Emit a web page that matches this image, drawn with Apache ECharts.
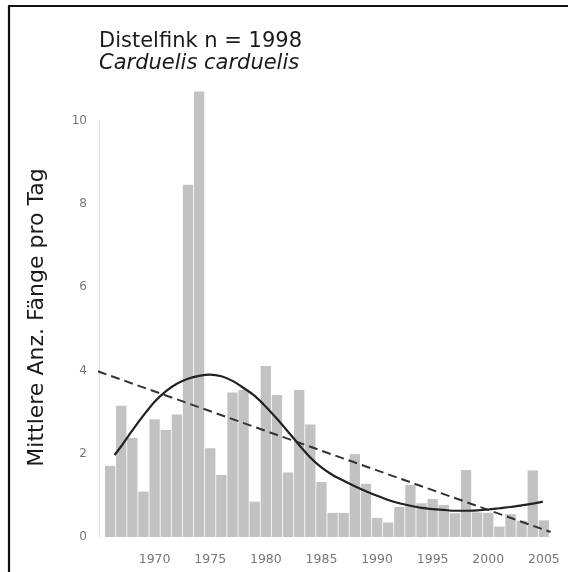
<!DOCTYPE html>
<html>
<head>
<meta charset="utf-8">
<script src="https://cdn.jsdelivr.net/npm/echarts@6/dist/echarts.min.js"></script>
<style>
html,body{margin:0;padding:0;background:#fff;}
#c{width:568px;height:572px;}
</style>
</head>
<body>
<div id="c"></div>
<script>
const titleText = "Distelfink n = 1998";
const subtitleText = "Carduelis carduelis";
const yAxisTitle = "Mittlere Anz. Fänge pro Tag";

const years = [1966,1967,1968,1969,1970,1971,1972,1973,1974,1975,
               1976,1977,1978,1979,1980,1981,1982,1983,1984,1985,
               1986,1987,1988,1989,1990,1991,1992,1993,1994,1995,
               1996,1997,1998,1999,2000,2001,2002,2003,2004,2005];
const catches = [1.71,3.15,2.38,1.09,2.83,2.57,2.94,8.46,10.70,2.13,
                 1.49,3.47,3.53,0.85,4.11,3.41,1.55,3.53,2.70,1.32,
                 0.58,0.58,1.99,1.28,0.46,0.35,0.72,1.25,0.81,0.91,
                 0.77,0.57,1.61,0.59,0.58,0.25,0.55,0.39,1.60,0.40];

const trendYears = [1966.4,1967,1968,1969,1970,1971,1972,1973,1974,1975,
                    1976,1977,1978,1979,1980,1981,1982,1983,1984,1985,
                    1986,1987,1988,1989,1990,1991,1992,1993,1994,1995,
                    1996,1997,1998,1999,2000,2001,2002,2003,2004,2004.9];
const trendValues = [1.97,2.18,2.56,2.92,3.25,3.50,3.68,3.80,3.87,3.90,
                     3.86,3.75,3.58,3.39,3.13,2.84,2.53,2.21,1.91,1.67,
                     1.49,1.35,1.22,1.10,0.99,0.89,0.81,0.75,0.70,0.67,
                     0.65,0.63,0.63,0.64,0.66,0.69,0.72,0.76,0.80,0.85];

const linYears = [1964.9, 2005.6];
const linValues = [3.98, 0.12];

const yTicks = [0,2,4,6,8,10];

const chart = echarts.init(document.getElementById('c'), null, {renderer:'canvas'});

const barData = years.map((y,i)=>[y, catches[i]]);
const trendData = trendYears.map((y,i)=>[y, trendValues[i]]);
const linData = linYears.map((y,i)=>[y, linValues[i]]);

chart.setOption({
  animation:false,
  backgroundColor:'#fff',
  grid:{left:99, right:13, top:120.7, bottom:35, containLabel:false},
  xAxis:{
    type:'value', min:1965, max:2006, interval:5,
    axisLine:{show:false}, axisTick:{show:false}, splitLine:{show:false},
    axisLabel:{
      margin:16, color:'#777', fontFamily:'DejaVu Sans', fontSize:12.5,
      formatter:function(v){ return (v%5===0 && v>=1970) ? String(v) : ''; }
    }
  },
  yAxis:{
    type:'value', min:yTicks[0], max:yTicks[yTicks.length-1], interval:2,
    axisLine:{show:true, lineStyle:{color:'#ddd', width:1}},
    axisTick:{show:false}, splitLine:{show:false},
    axisLabel:{margin:12, color:'#777', fontFamily:'DejaVu Sans', fontSize:12}
  },
  graphic:[
    {type:'rect', shape:{x:9, y:6, width:700, height:700},
     style:{fill:null, stroke:'#111', lineWidth:2.2}, z:100},
    {type:'text', x:99, y:42,
     style:{text:titleText, font:'21px "DejaVu Sans"', fill:'#1a1a1a', textVerticalAlign:'middle', textAlign:'left'}},
    {type:'text', x:99, y:64,
     style:{text:subtitleText, font:'italic 21px "DejaVu Sans"', fill:'#1a1a1a', textVerticalAlign:'middle', textAlign:'left'}},
    {type:'text', x:37, y:317.5, rotation:Math.PI/2,
     style:{text:yAxisTitle, font:'22px "DejaVu Sans"', fill:'#1a1a1a', textVerticalAlign:'middle', textAlign:'center'}}
  ],
  series:[
    {type:'bar', data:barData, barWidth:10.3, clip:false,
     itemStyle:{color:'#c2c2c2'}, z:1},
    {type:'line', data:linData, symbol:'none', clip:false,
     lineStyle:{color:'#333', width:2, type:[9,5]}, z:3},
    {type:'line', data:trendData, symbol:'none', smooth:0.3, clip:false,
     lineStyle:{color:'#222', width:2.2}, z:4}
  ]
});
</script>
</body>
</html>
